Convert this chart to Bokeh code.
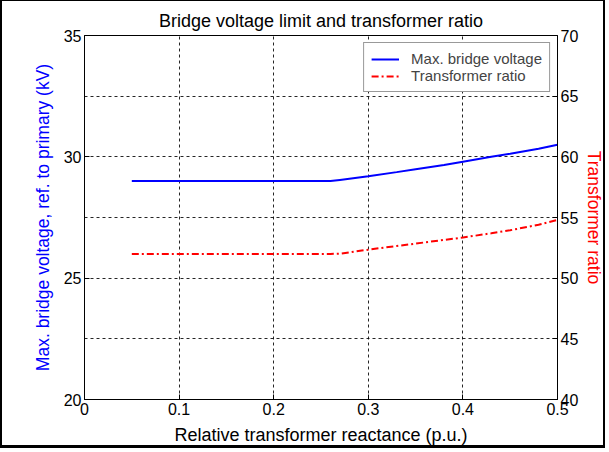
from bokeh.plotting import figure
from bokeh.models import Range1d, LinearAxis, FixedTicker, Legend, LegendItem
from bokeh.embed import file_html
from bokeh.resources import INLINE

# Relative transformer reactance (p.u.)
reactance = [0.05, 0.10, 0.15, 0.20, 0.25, 0.26, 0.27, 0.30, 0.33, 0.35, 0.38, 0.40, 0.43, 0.45, 0.48, 0.50]
# Max. bridge voltage referred to primary (kV)
bridge_voltage = [29.0, 29.0, 29.0, 29.0, 29.0, 29.0, 29.05, 29.2, 29.37, 29.49, 29.66, 29.8, 30.0, 30.13, 30.33, 30.5]
# Transformer ratio
transformer_ratio = [52.0, 52.0, 52.0, 52.0, 52.0, 52.0, 52.02, 52.35, 52.65, 52.85, 53.15, 53.35, 53.7, 53.95, 54.4, 54.8]

x_ticks = [0, 0.1, 0.2, 0.3, 0.4, 0.5]
x_grid = [0.1, 0.2, 0.3, 0.4]
voltage_ticks = [20, 25, 30, 35]
voltage_grid = [22.5, 25, 27.5, 30, 32.5]
ratio_ticks = [40, 45, 50, 55, 60, 65, 70]

FONT = "Liberation Sans"

p = figure(width=605, height=448, output_backend="svg", toolbar_location=None,
           x_range=Range1d(0, 0.5), y_range=Range1d(20, 35),
           min_border_left=82, min_border_right=50, min_border_top=34, min_border_bottom=50,
           background_fill_color="white", border_fill_color="white")
p.styles = {"border-left": "2px solid black", "border-bottom": "3px solid black",
            "border-top": "1px solid black", "border-right": "2px solid black"}
p.extra_y_ranges = {"ratio": Range1d(40, 70)}

p.title.text = "Bridge voltage limit and transformer ratio"
p.title.align = "center"
p.title.text_font = FONT
p.title.text_font_size = "18px"
p.title.text_font_style = "normal"
p.title.text_color = "black"
p.title.standoff = 10

p.outline_line_color = "black"
p.outline_line_width = 1


def style_axis(ax, color="black", label_size="18px"):
    ax.major_tick_in = 5
    ax.major_tick_out = 0
    ax.minor_tick_line_color = None
    ax.axis_line_color = "black"
    ax.major_tick_line_color = "black"
    ax.major_label_text_font = FONT
    ax.major_label_text_font_size = "16px"
    ax.major_label_text_color = "black"
    ax.axis_label_text_font = FONT
    ax.axis_label_text_font_size = label_size
    ax.axis_label_text_font_style = "normal"
    ax.axis_label_text_color = color
    ax.major_label_standoff = 3


xax = p.xaxis[0]
xax.ticker = FixedTicker(ticks=x_ticks)
xax.axis_label = "Relative transformer reactance (p.u.)"
style_axis(xax)
xax.axis_label_standoff = 7

yax = p.yaxis[0]
yax.ticker = FixedTicker(ticks=voltage_ticks)
yax.axis_label = "Max. bridge voltage, ref. to primary (kV)"
style_axis(yax, "#0000ff", "17.5px")
yax.axis_label_standoff = 8

rax = LinearAxis(y_range_name="ratio", ticker=FixedTicker(ticks=ratio_ticks),
                 axis_label="Transformer ratio")
style_axis(rax, "#ff0000", "17.5px")
rax.axis_label_standoff = 3
p.add_layout(rax, "right")

p.xgrid.ticker = FixedTicker(ticks=x_grid)
p.ygrid.ticker = FixedTicker(ticks=voltage_grid)
for g in (p.xgrid[0], p.ygrid[0]):
    g.grid_line_color = "black"
    g.grid_line_alpha = 0.85
    g.grid_line_dash = "3 3"
    g.grid_line_width = 1

r_v = p.line(reactance, bridge_voltage, line_color="#0000ff", line_width=2)
r_t = p.line(reactance, transformer_ratio, line_color="#ff0000", line_width=2,
             line_dash="7 3 2 3", y_range_name="ratio")

legend = Legend(items=[LegendItem(label="Max. bridge voltage", renderers=[r_v]),
                       LegendItem(label="Transformer ratio", renderers=[r_t])],
                location="top_right")
legend.label_text_font = FONT
legend.label_text_font_size = "15px"
legend.border_line_color = "#333333"
legend.border_line_width = 1
legend.background_fill_alpha = 1
legend.glyph_width = 28
legend.glyph_height = 16
legend.label_height = 16
legend.spacing = 0
legend.padding = 7
legend.margin = 7
legend.label_standoff = 12
p.add_layout(legend, "center")

open("out.html", "w").write(file_html(p, INLINE))
